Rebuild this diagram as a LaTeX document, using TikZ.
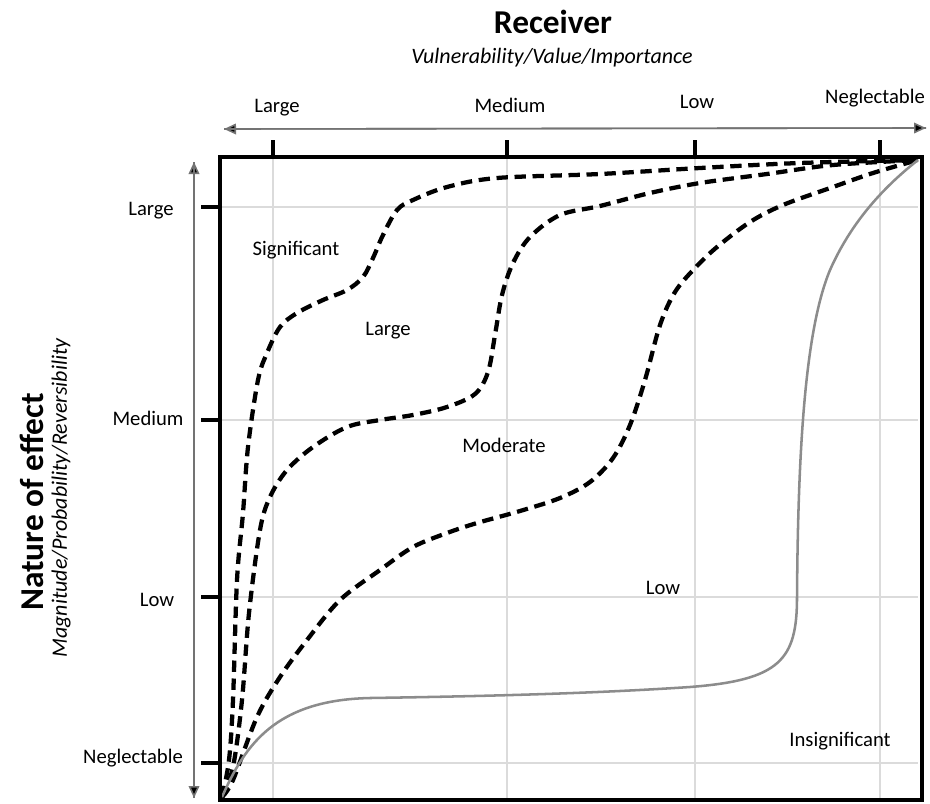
\documentclass[tikz,border=0pt]{standalone}
\usepackage{fontspec}
\setmainfont{Carlito}
\usetikzlibrary{arrows.meta}
\definecolor{gridline}{gray}{0.86}
\definecolor{softcurve}{gray}{0.55}
\definecolor{axisline}{gray}{0.45}
\tikzset{
  lbl/.style={inner sep=0pt, font=\fontsize{15.5}{18}\selectfont},
  sub/.style={inner sep=0pt, font=\fontsize{16.5}{19}\itshape},
  ttl/.style={inner sep=0pt, font=\fontsize{25}{30}\bfseries},
  band/.style={line width=3.2pt, dash pattern=on 8.5pt off 5pt, line cap=butt, black},
  floor/.style={line width=1.9pt, softcurve},
  gridrule/.style={line width=1.4pt, gridline},
  tickmark/.style={line width=2.6pt, black},
  axisarrow/.style={line width=1.2pt, axisline, -{Triangle[length=9pt,width=8pt,fill=black]}},
}
\begin{document}
\begin{tikzpicture}[x=0.75pt, y=-0.75pt]
\useasboundingbox (0,0) rectangle (930,803);

% frame corners
\coordinate (o)  at (222,797);
\coordinate (tr) at (918,160);

% light grid
\foreach \gx in {273,507,695,880} \draw[gridrule] (\gx,159) -- (\gx,798);
\foreach \gy in {207,420,597,763} \draw[gridrule] (222,\gy) -- (918,\gy);

% band boundaries
\draw[band] plot[smooth, tension=0.55] coordinates {
  (o) (229,760) (233,700) (237,580) (243,513) (248,447) (258,380) (267,353)
  (280,327) (297,313) (323,300) (347,290) (363,277) (373,258) (383,235)
  (397,210) (413,200) (447,187) (497,178) (600,174) (700,168) (800,163) (tr)};
\draw[band] plot[smooth, tension=0.55] coordinates {
  (o) (233,767) (242,700) (249,613) (260,530) (270,497) (287,470) (313,447)
  (347,427) (380,420) (413,415) (447,407) (475,394) (488,372) (495,335)
  (502,295) (513,263) (530,237) (560,215) (600,206) (650,193) (700,183)
  (767,174) (833,165) (tr)};
\draw[band] plot[smooth, tension=0.55] coordinates {
  (o) (233,780) (257,717) (280,677) (307,640) (340,600) (380,570) (413,547)
  (447,533) (477,523) (520,511) (560,498) (590,482) (613,458) (630,425)
  (645,380) (660,325) (675,292) (695,268) (717,247) (750,222) (783,205)
  (833,187) (873,173) (tr)};
\draw[floor] (o) .. controls (245,745) and (275,700) .. (370,698)
  .. controls (500,696) and (600,693) .. (690,687)
  .. controls (780,680) and (797,660) .. (797,597)
  .. controls (798,450) and (805,330) .. (830,270)
  .. controls (850,225) and (880,190) .. (tr);

% frame
\draw[line width=3.4pt, black] (220,157) rectangle (922,800);

% top axis
\coordinate (ta) at (224,129);
\coordinate (tb) at (926,128);
\draw[axisarrow] (tb) -- (ta);
\draw[axisarrow] (ta) -- (tb);
\foreach \tx in {273,507,695,880} \draw[tickmark] (\tx,140) -- (\tx,157);

% left axis
\coordinate (la) at (194,162);
\coordinate (lb) at (194,798);
\draw[axisarrow] (lb) -- (la);
\draw[axisarrow] (la) -- (lb);
\foreach \ty in {207,420,597,763} \draw[tickmark] (201,\ty) -- (220,\ty);

% titles
\node[ttl] (rcv) at (553,22) {Receiver};
\node[sub] (rcvsub) at (552,58) {Vulnerability/Value/Importance};
\node[ttl, rotate=90] (noe) at (32,502) {Nature of effect};
\node[sub, rotate=90] (noesub) at (61,498) {Magnitude/Probability/Reversibility};

% receiver scale
\node[lbl] (xl) at (277,108) {Large};
\node[lbl] (xm) at (510,105) {Medium};
\node[lbl] (xo) at (697,102) {Low};
\node[lbl] (xn) at (875,98)  {Neglectable};

% effect scale
\node[lbl] (yl) at (151,211) {Large};
\node[lbl] (ym) at (148,418) {Medium};
\node[lbl] (yo) at (157,600) {Low};
\node[lbl] (yn) at (133,758) {Neglectable};

% band names
\node[lbl] (bsig) at (296,250) {Significant};
\node[lbl] (blrg) at (388,331) {Large};
\node[lbl] (bmod) at (504,445) {Moderate};
\node[lbl] (blow) at (663,588) {Low};
\node[lbl] (bins) at (840,741) {Insignificant};
\end{tikzpicture}
\end{document}
